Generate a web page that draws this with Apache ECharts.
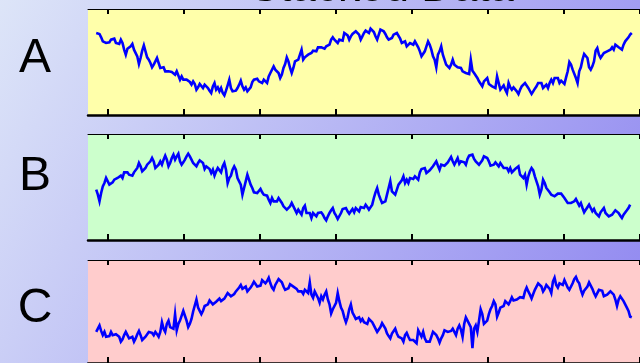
<!DOCTYPE html>
<html>
<head>
<meta charset="utf-8">
<script src="https://cdn.jsdelivr.net/npm/echarts@6/dist/echarts.min.js"></script>
<style>html,body{margin:0;padding:0;}#c{width:640px;height:363px;}</style>
</head>
<body>
<div id="c"></div>
<script>
const panelNames = ['A', 'B', 'C'];
const titleText = 'Stacked Data';
const xTicks = [7, 53.26, 99.52, 145.78, 192.04, 238.3, 284.56, 330.82];

const seriesA = [
0.85,0.88,0.82,0.72,0.60,0.57,0.55,0.60,0.57,0.65,0.60,0.68,0.55,0.50,0.52,0.65,0.55,0.35,0.20,0.38,0.42,0.45,0.52,0.35,0.30,0.15,-0.08,0.10,0.32,0.48,0.30,0.12,0.05,-0.05,-0.18,-0.10,0.00,0.10,-0.05,-0.20,-0.22,-0.18,-0.30,-0.25,-0.30,-0.28,-0.32,-0.28,-0.40,-0.30,-0.35,-0.55,-0.45,-0.55,-0.60,-0.55,-0.55,-0.62,-0.70,-0.60,-0.68,-0.85,-0.78,-0.68,-0.62,-0.80,-0.70,-0.68,-0.80,-0.88,-0.95,-0.75,-0.65,-0.85,-0.78,-0.90,-0.80,-0.95,-1.02,-0.88,-0.72,-0.55,-0.80,-0.90,-0.95,-0.88,-0.80,-0.70,-0.58,-0.75,-0.85,-0.78,-0.90,-0.85,-0.78,-0.62,-0.55,-0.58,-0.52,-0.60,-0.58,-0.65,-0.55,-0.50,-0.65,-0.45,-0.35,-0.30,-0.15,-0.25,-0.30,-0.35,-0.50,-0.40,-0.20,-0.08,0.12,0.00,-0.20,-0.35,-0.20,0.00,-0.02,0.05,0.20,0.35,0.05,0.12,0.15,0.20,0.18,0.25,0.32,0.35,0.30,0.42,0.48,0.42,0.45,0.38,0.45,0.42,0.50,0.65,0.72,0.65,0.60,0.55,0.65,0.68,0.62,0.85,0.88,0.78,0.65,0.75,0.82,0.80,0.90,
0.90,0.80,0.65,0.75,0.85,0.92,0.98,0.85,0.98,1.00,0.88,0.75,0.65,0.80,0.95,0.98,0.90,0.82,0.72,0.65,0.60,0.70,0.80,0.82,0.85,0.80,0.68,0.55,0.60,0.60,0.45,0.42,0.55,0.60,0.50,0.60,0.55,0.42,0.30,0.15,0.10,0.30,0.35,0.60,0.50,0.35,0.15,0.05,-0.18,0.20,0.30,0.45,0.20,0.05,-0.10,-0.05,-0.20,-0.10,0.05,-0.10,-0.15,-0.18,-0.20,-0.20,-0.30,-0.35,-0.35,-0.40,-0.38,0.05,-0.28,-0.35,-0.40,-0.50,-0.60,-0.65,-0.75,-0.60,-0.58,-0.50,-0.68,-0.65,-0.75,-0.78,-0.80,-0.45,-0.65,-0.85,-0.80,-0.72,-0.85,-0.95,-0.65,-0.78,-0.85,-0.78,-0.75,-0.90,-0.98,-0.85,-0.75,-0.78,-0.65,-0.60,-0.80,-0.85,-0.98,-0.90,-0.82,-0.75,-0.65,-0.60,-0.65,-0.80,-0.78,-0.70,-0.80,-0.65,-0.55,-0.65,-0.50,-0.52,-0.50,-0.65,-0.58,-0.55,-0.68,-0.48,-0.30,-0.02,-0.10,-0.25,-0.30,-0.50,-0.65,-0.30,-0.18,0.05,0.22,0.20,0.10,-0.18,-0.25,-0.15,0.00,0.32,0.40,0.20,0.10,0.15,0.25,0.20,0.30,0.28,0.35,0.42,0.35,0.50,0.52,0.42,0.38,0.35,0.50,0.60,0.55,0.72,0.80,0.85
];

const seriesB = [
-0.10,-0.25,-0.45,-0.20,0.00,0.10,0.25,0.30,0.05,0.10,0.12,0.20,0.15,0.25,0.30,0.32,0.25,0.42,0.38,0.42,0.35,0.38,0.32,0.42,0.45,0.55,0.70,0.60,0.45,0.48,0.55,0.65,0.65,0.75,0.85,0.75,0.55,0.58,0.65,0.75,0.65,0.80,0.92,0.80,0.60,0.70,0.85,0.95,0.80,0.90,0.98,0.75,0.65,0.72,0.80,0.90,0.98,0.90,0.80,0.70,0.65,0.60,0.70,0.78,0.82,0.70,0.52,0.60,0.65,0.52,0.40,0.50,0.32,0.45,0.55,0.50,0.42,0.60,0.70,0.50,0.10,0.25,0.32,0.50,0.60,0.50,0.25,0.15,0.05,-0.25,-0.05,0.15,0.35,0.20,0.05,-0.05,-0.18,-0.15,-0.20,-0.15,-0.08,-0.18,-0.25,-0.30,-0.28,-0.40,-0.50,-0.35,-0.45,-0.50,-0.45,-0.35,-0.40,-0.50,-0.60,-0.55,-0.70,-0.75,-0.60,-0.50,-0.55,-0.70,-0.80,-0.70,-0.65,-0.85,-0.65,-0.58,-0.80,-0.85,-0.80,-0.95,-0.80,-0.75,-0.90,-0.80,-0.75,-0.78,-0.85,-0.95,-1.02,-0.90,-0.80,-0.72,-0.65,-0.80,-0.88,-0.98,-0.92,-0.80,-0.68,-0.62,-0.65,-0.75,-0.82,-0.75,-0.68,-0.78,-0.65,
-0.65,-0.75,-0.62,-0.58,-0.65,-0.55,-0.62,-0.70,-0.75,-0.55,-0.35,-0.18,-0.05,-0.25,-0.38,-0.50,-0.55,-0.45,-0.25,-0.05,0.15,-0.15,-0.20,-0.25,-0.10,0.05,0.10,0.18,0.30,0.10,0.20,0.10,0.25,0.30,0.22,0.30,0.35,0.20,0.42,0.52,0.50,0.55,0.40,0.35,0.48,0.52,0.60,0.65,0.75,0.62,0.50,0.65,0.60,0.62,0.65,0.72,0.80,0.88,0.75,0.65,0.75,0.85,0.68,0.75,0.80,0.72,0.65,0.82,0.92,0.88,0.95,0.82,0.75,0.80,0.65,0.70,0.78,0.90,0.88,0.85,0.75,0.62,0.68,0.65,0.72,0.78,0.60,0.70,0.65,0.55,0.50,0.55,0.45,0.55,0.42,0.45,0.52,0.55,0.60,0.35,0.30,0.25,0.35,0.05,0.30,0.45,0.55,0.48,0.30,0.15,0.00,-0.25,-0.10,0.20,0.10,-0.05,-0.08,-0.18,-0.25,-0.20,-0.30,-0.25,-0.22,-0.28,-0.22,-0.25,-0.35,-0.35,-0.50,-0.55,-0.50,-0.55,-0.45,-0.38,-0.48,-0.58,-0.50,-0.65,-0.78,-0.70,-0.65,-0.55,-0.65,-0.75,-0.68,-0.80,-0.85,-0.90,-0.78,-0.72,-0.65,-0.80,-0.75,-0.90,-0.95,-0.85,-0.80,-0.72,-0.68,-0.80,-0.88,-0.95,-0.85,-0.80,-0.72,-0.65,-0.55
];

const seriesC = [
-0.65,-0.55,-0.45,-0.62,-0.75,-0.65,-0.80,-0.85,-0.78,-0.65,-0.75,-0.80,-0.72,-0.68,-0.80,-0.95,-0.88,-0.75,-0.65,-0.75,-0.85,-0.90,-0.80,-0.95,-0.85,-0.72,-0.62,-0.75,-0.90,-0.88,-0.80,-0.75,-0.65,-0.70,-0.68,-0.75,-0.65,-0.72,-0.80,-0.65,-0.35,-0.55,-0.65,-0.40,-0.30,-0.50,-0.45,-0.55,-0.10,-0.60,-0.40,-0.30,-0.25,0.00,-0.15,-0.30,-0.50,-0.40,-0.25,-0.02,0.02,0.35,0.10,0.00,-0.10,0.00,0.15,0.10,0.20,0.32,0.30,0.20,0.25,0.28,0.32,0.38,0.30,0.35,0.38,0.42,0.55,0.60,0.45,0.48,0.52,0.60,0.65,0.72,0.80,0.68,0.62,0.75,0.60,0.65,0.72,0.80,0.90,0.88,0.75,0.70,0.78,0.95,0.90,0.85,0.92,1.02,0.85,0.72,0.65,0.80,0.85,0.98,1.02,0.88,0.75,0.65,0.60,0.70,0.82,0.88,0.75,0.80,0.68,0.60,0.65,0.60,0.52,0.65,0.62,0.55,0.88,0.50,0.40,0.60,0.65,0.40,0.25,0.45,0.35,0.50,0.60,0.35,0.20,-0.08,0.05,0.00,0.25,0.55,0.30,0.10,0.00,-0.20,-0.35,-0.20,0.05,0.20,-0.05,-0.15,-0.25,
-0.25,-0.20,-0.32,-0.25,-0.35,-0.30,-0.40,-0.25,-0.22,-0.35,-0.45,-0.50,-0.65,-0.60,-0.50,-0.38,-0.40,-0.55,-0.70,-0.78,-0.85,-0.70,-0.65,-0.55,-0.70,-0.80,-0.78,-0.85,-0.95,-0.75,-0.68,-0.80,-0.90,-0.95,-0.90,-0.85,-1.00,-0.60,-0.70,-0.80,-0.65,-0.85,-0.95,-0.98,-0.95,-0.80,-0.65,-0.60,-0.75,-0.85,-0.98,-0.85,-0.75,-0.60,-0.55,-0.65,-0.70,-0.62,-0.55,-0.65,-0.75,-0.55,-0.45,-0.58,-0.80,-0.40,-0.20,-0.30,-0.40,-0.50,-1.15,-0.55,-0.45,-0.65,-0.30,0.05,-0.10,-0.40,-0.45,-0.30,-0.10,0.05,0.15,0.30,0.20,-0.18,-0.05,0.10,0.05,0.15,0.30,0.35,0.20,0.30,0.42,0.32,0.38,0.35,0.30,0.42,0.45,0.40,0.60,0.72,0.60,0.50,0.38,0.52,0.65,0.70,0.85,0.90,0.75,0.60,0.68,0.80,0.78,0.68,0.55,0.90,1.02,0.80,0.72,0.85,0.88,0.80,0.95,0.92,0.72,0.65,0.68,0.85,0.98,1.05,0.92,0.85,0.65,0.50,0.62,0.65,0.75,0.88,0.82,0.68,0.55,0.45,0.50,0.65,0.70,0.62,0.45,0.40,0.50,0.45,0.60,0.65,0.50,0.35,0.15,0.35,0.45,0.40,0.30,0.35,0.10,0.00,-0.18,-0.20
];

const allSeries = [seriesA, seriesB, seriesC];
const panelColors = ['#ffffaa', '#ccffcc', '#ffcccc'];
const panelTops = [9, 134, 260];
const labelYs = [59, 177, 309];

const chart = echarts.init(document.getElementById('c'), null, {renderer: 'canvas'});

const grids = [], xAxes = [], yAxes = [], series = [], graphics = [];
allSeries.forEach((vals, k) => {
  grids.push({left: 88, top: panelTops[k], width: 560, height: 106, show: true,
    backgroundColor: panelColors[k], borderWidth: 0});
  const base = {gridIndex: k, type: 'value', min: -5, max: 331,
    axisLabel: {show: false, customValues: xTicks},
    splitLine: {show: false}};
  xAxes.push(Object.assign({}, base, {position: 'bottom',
    axisLine: {show: true, onZero: false, lineStyle: {color: '#000', width: 2.5}},
    axisTick: {show: true, inside: true, length: 6, customValues: xTicks, lineStyle: {color: '#000', width: 2}}}));
  xAxes.push(Object.assign({}, base, {position: 'top',
    axisLine: {show: true, onZero: false, lineStyle: {color: '#000', width: 1}},
    axisTick: {show: true, inside: true, length: 5, customValues: xTicks, lineStyle: {color: '#000', width: 2}}}));
  yAxes.push({gridIndex: k, type: 'value', min: -1.61, max: 1.57, show: false});
  series.push({type: 'line', xAxisIndex: 2 * k, yAxisIndex: k, showSymbol: false,
    lineStyle: {color: '#0000ff', width: 2.6, join: 'miter'}, data: vals.map((v, i) => [i, v])});
  graphics.push({type: 'text', x: 35, y: labelYs[k], style: {text: panelNames[k],
    font: '48px "Liberation Sans", Arial, sans-serif', fill: '#000', align: 'center', verticalAlign: 'middle'}});
});
graphics.push({type: 'text', x: 382, y: 10.5, style: {text: titleText,
  font: '44px "Liberation Sans", Arial, sans-serif', fill: '#000', align: 'center', verticalAlign: 'bottom'}});

chart.setOption({
  animation: false,
  backgroundColor: new echarts.graphic.LinearGradient(0, 0, 1, 1, [
    {offset: 0, color: '#dde5f8'}, {offset: 1, color: '#8f86f0'}]),
  grid: grids, xAxis: xAxes, yAxis: yAxes, series: series, graphic: graphics
});
</script>
</body>
</html>
